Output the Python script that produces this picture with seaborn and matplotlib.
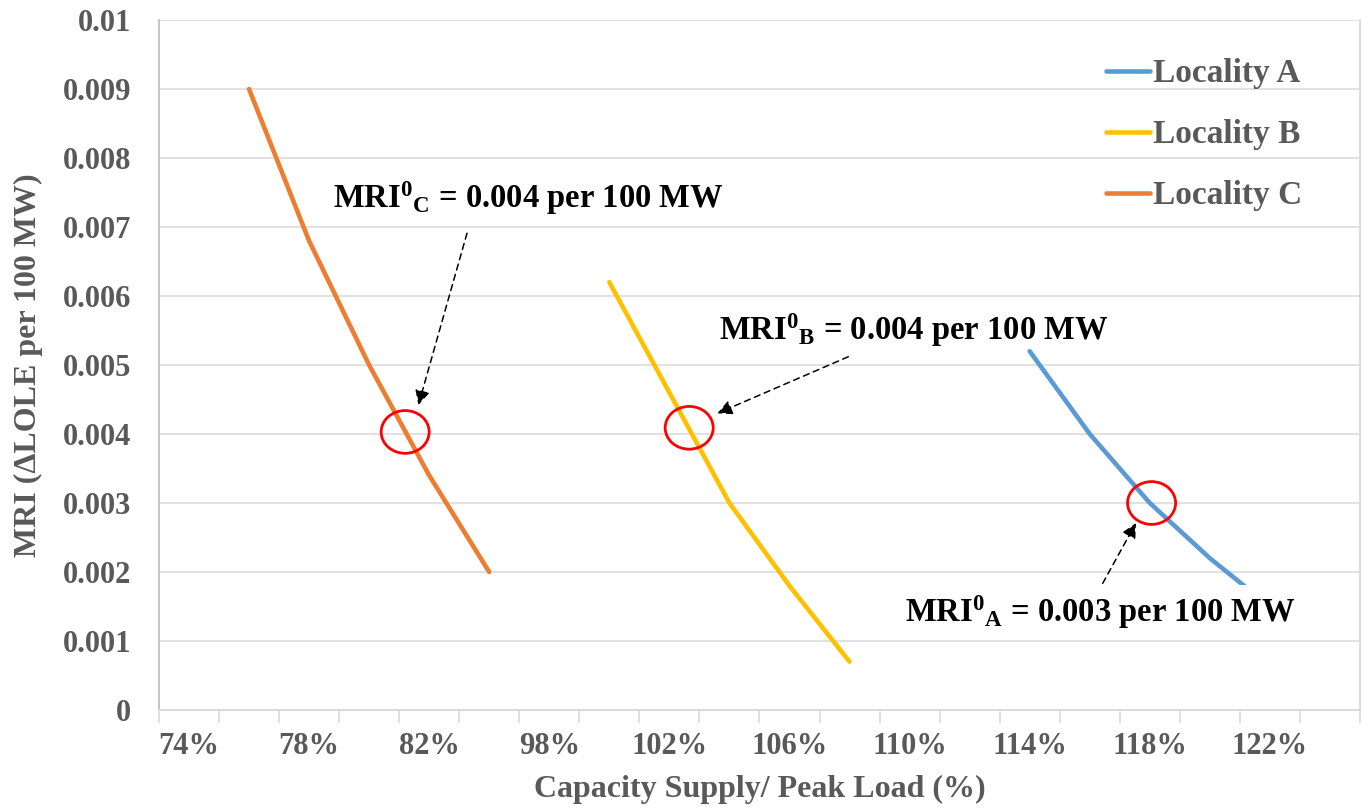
import matplotlib
matplotlib.use("Agg")
import matplotlib.pyplot as plt
from matplotlib.patches import Ellipse
from matplotlib.ticker import FuncFormatter, FixedLocator
import seaborn as sns
import pandas as pd

# category axis (Excel style): 20 categories, every other one labelled
categories = ["74%", "76%", "78%", "80%", "82%", "86%", "98%", "100%", "102%", "104%",
              "106%", "108%", "110%", "112%", "114%", "116%", "118%", "120%", "122%", "124%"]

loc_a_x = ["114%", "116%", "118%", "120%", "122%"]
loc_a_y = [0.0052, 0.0040, 0.0030, 0.0022, 0.0015]
loc_b_x = ["100%", "102%", "104%", "106%", "108%"]
loc_b_y = [0.0062, 0.0046, 0.0030, 0.0018, 0.0007]
loc_c_x = ["76%", "78%", "80%", "82%", "86%"]
loc_c_y = [0.0090, 0.0068, 0.0050, 0.0034, 0.0020]

names = ["Locality A", "Locality B", "Locality C"]
colors = ["#5B9BD5", "#FFC000", "#ED7D31"]

rows = []
for name, xs, ys in zip(names, [loc_a_x, loc_b_x, loc_c_x], [loc_a_y, loc_b_y, loc_c_y]):
    for x, y in zip(xs, ys):
        rows.append({"pos": categories.index(x), "value": y, "locality": name})
df = pd.DataFrame(rows)

sns.set_theme(style="white")
plt.rcParams["font.family"] = ["Liberation Serif", "DejaVu Serif"]
plt.rcParams["font.weight"] = "bold"
plt.rcParams["mathtext.fontset"] = "custom"
plt.rcParams["mathtext.rm"] = "Liberation Serif:bold"
plt.rcParams["mathtext.it"] = "Liberation Serif:bold"
plt.rcParams["mathtext.bf"] = "Liberation Serif:bold"

grey = "#595959"

fig = plt.figure(figsize=(13.62, 8.08), dpi=100)
ax = fig.add_axes([0.1167, 0.1213, 0.8818, 0.8539])

sns.lineplot(data=df, x="pos", y="value", hue="locality", hue_order=names,
             palette=colors, linewidth=3.3, ax=ax, legend=False, zorder=3)

ax.set_xlim(-0.5, len(categories) - 0.5)
ax.set_ylim(0, 0.01)

# y axis
ax.set_yticks([i / 1000 for i in range(11)])
ax.yaxis.set_major_formatter(FuncFormatter(lambda v, p: f"{v:g}"))
ax.grid(axis="y", color="#d9d9d9", linewidth=1.1)
ax.grid(axis="x", visible=False)
ax.tick_params(axis="y", length=0, pad=20, labelsize=22, labelcolor=grey)

# x axis: labels on every other category, tick marks between categories
ax.xaxis.set_major_locator(FixedLocator(list(range(0, len(categories), 2))))
ax.set_xticklabels(categories[::2])
ax.xaxis.set_minor_locator(FixedLocator([i - 0.5 for i in range(len(categories) + 1)]))
ax.tick_params(axis="x", which="major", length=0, pad=16, labelsize=22, labelcolor=grey)
ax.tick_params(axis="x", which="minor", length=9, width=1.1, color="#d9d9d9", bottom=True)

ax.spines["top"].set_visible(False)
ax.spines["left"].set_color("#bfbfbf")
ax.spines["bottom"].set_color("#d9d9d9")
ax.spines["right"].set_color("#d9d9d9")
for s in ["left", "bottom", "right"]:
    ax.spines[s].set_linewidth(1.3)

ax.set_xlabel("Capacity Supply/ Peak Load (%)", fontsize=23, color=grey,
              fontweight="bold", labelpad=10)
ax.set_ylabel("MRI (ΔLOLE per 100 MW)", fontsize=23, color=grey,
              fontweight="bold", labelpad=14)

# legend
handles = [plt.Line2D([], [], color=c, linewidth=3.3) for c in colors]
leg = ax.legend(handles, names, loc="upper right", bbox_to_anchor=(0.977, 0.988),
                frameon=False, fontsize=24, handlelength=1.3, handletextpad=0.1,
                labelspacing=0.9)
for t in leg.get_texts():
    t.set_color(grey)
    t.set_fontweight("bold")

# annotations: circles, dashed arrows, labels
circles = [(3.6, 0.00403), (8.33, 0.00409), (16.03, 0.0030)]
for cx, cy in circles:
    ax.add_patch(Ellipse((cx, cy), 0.8, 0.00062, fill=False, edgecolor="#ff0000",
                         linewidth=2, zorder=5))

arrows = [((4.63, 0.00691), (3.82, 0.00442)),
          ((10.98, 0.00512), (8.80, 0.00430)),
          ((15.13, 0.00170), (15.77, 0.00271))]
for start, end in arrows:
    ax.annotate("", xy=end, xytext=start,
                arrowprops=dict(arrowstyle="-|>", linestyle=(0, (4, 3)), color="black",
                                lw=1.1, mutation_scale=22, shrinkA=0, shrinkB=0),
                zorder=6)

labels = [(2.4, 0.00742, r"MRI$^0$$_C$ = 0.004 per 100 MW"),
          (8.83, 0.00551, r"MRI$^0$$_B$ = 0.004 per 100 MW"),
          (11.93, 0.00142, r"MRI$^0$$_A$ = 0.003 per 100 MW")]
for i, (tx, ty, txt) in enumerate(labels):
    kw = {}
    if i == 2:
        kw["bbox"] = dict(facecolor="white", edgecolor="none", pad=6)
    ax.text(tx, ty, txt, fontsize=23.5, fontweight="bold", color="black",
            ha="left", va="center", zorder=7, **kw)

fig.savefig("out.png", dpi=100)
